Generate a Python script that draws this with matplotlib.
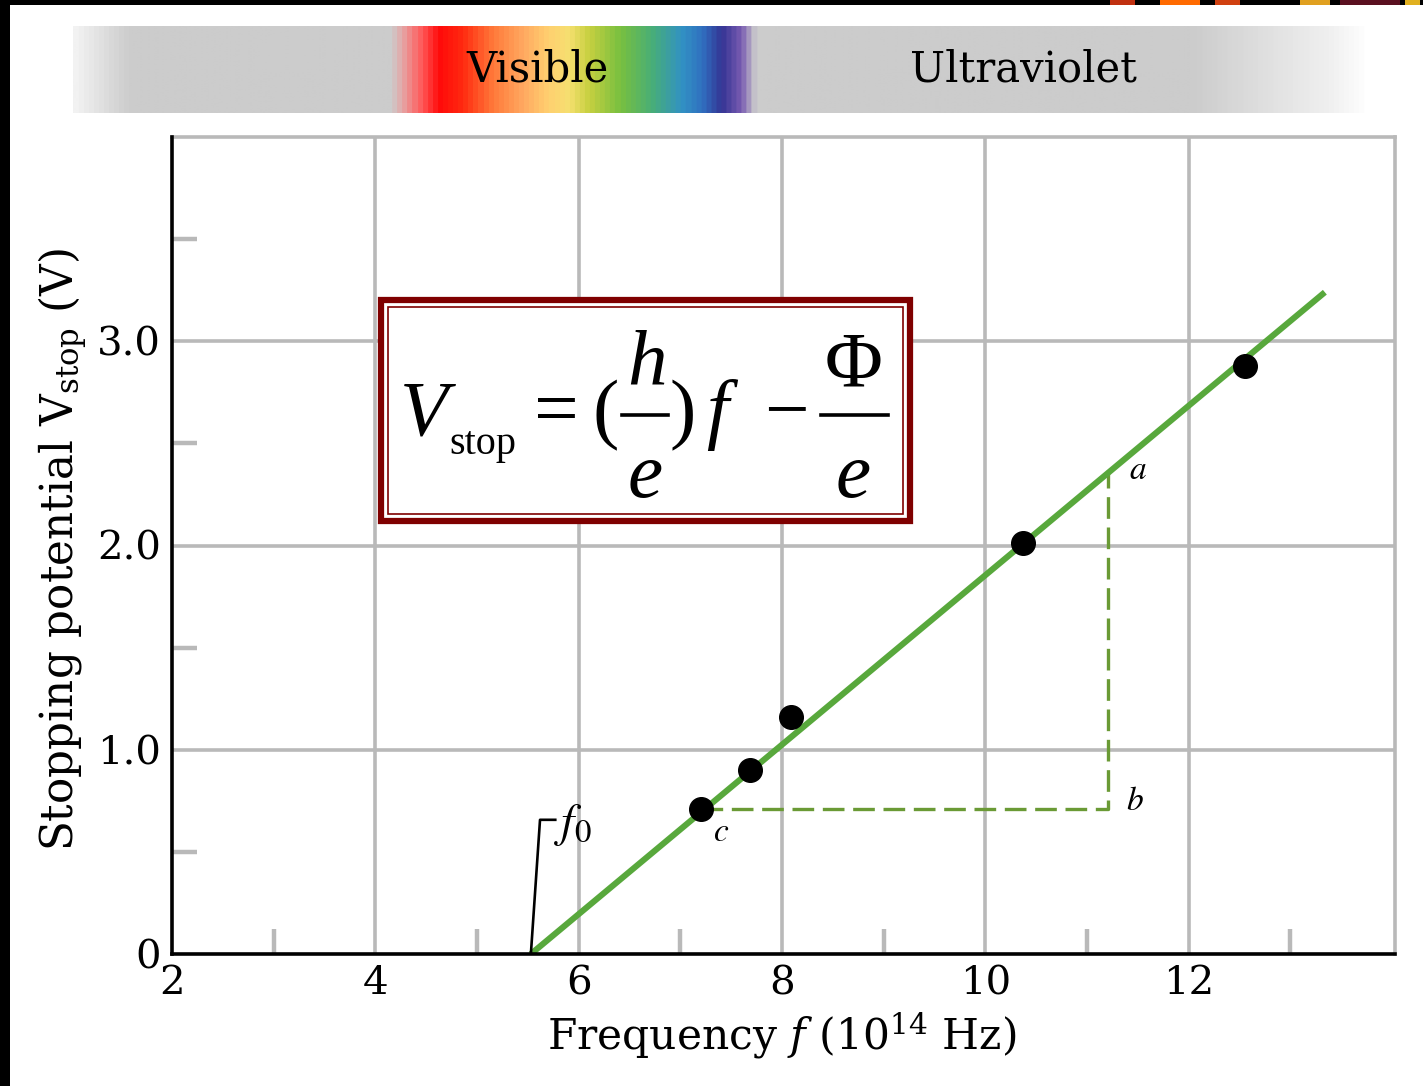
import numpy as np
import matplotlib
matplotlib.use("Agg")
import matplotlib.pyplot as plt
from matplotlib.colors import LinearSegmentedColormap
from matplotlib.patches import Rectangle
from matplotlib.lines import Line2D

# ---------------- data ----------------
freq = [7.20, 7.69, 8.09, 10.37, 12.55]          # 10^14 Hz
vstop = [0.71, 0.90, 1.16, 2.01, 2.88]           # V
fit_f = [5.53, 13.34]
fit_v = [0.0, 3.24]
tri_f = [7.20, 11.21, 11.21]                     # c -> b -> a
tri_v = [0.71, 0.71, 2.37]
f0_f = [5.53, 5.62, 5.77]
f0_v = [0.0, 0.657, 0.657]
xticks = [2, 4, 6, 8, 10, 12]
xticklabels = ['2', '4', '6', '8', '10', '12']
xminor = [3, 5, 7, 9, 11, 13]
yticks = [0, 1, 2, 3]
yticklabels = ['0', '1.0', '2.0', '3.0']
yminor = [0.5, 1.5, 2.5, 3.5]

W, H = 1423, 1086
fig = plt.figure(figsize=(W / 100, H / 100), dpi=100)
fig.patch.set_facecolor('white')

def fx(px):
    return px / W

def fy(py):
    return 1 - py / H

FONT = 'DejaVu Serif'
SERIF = 'Liberation Serif'
GRID = '#b9b9b9'

# ---------------- main axes ----------------
ax = fig.add_axes([fx(172), fy(954), fx(1395) - fx(172), fy(137) - fy(954)])
ax.set_xlim(2, 14.03)
ax.set_ylim(0, 4.0)

ax.set_xticks(xticks)
ax.set_xticklabels(xticklabels, fontfamily=FONT, fontsize=29)
ax.set_yticks(yticks)
ax.set_yticklabels(yticklabels, fontfamily=FONT, fontsize=29)
ax.set_xticks(xminor, minor=True)
ax.set_yticks(yminor, minor=True)
ax.tick_params(axis='both', which='major', length=0, pad=8)
ax.tick_params(axis='both', which='minor', length=18, width=3.2,
               color=GRID, direction='in')

for v in [4, 6, 8, 10, 12]:
    ax.axvline(v, color=GRID, lw=2.6, zorder=0)
for v in [1, 2, 3]:
    ax.axhline(v, color=GRID, lw=2.6, zorder=0)

for s in ['top', 'right']:
    ax.spines[s].set_color(GRID)
    ax.spines[s].set_linewidth(2.6)
for s in ['left', 'bottom']:
    ax.spines[s].set_color('black')
    ax.spines[s].set_linewidth(2.6)
    ax.spines[s].set_zorder(5)

# fitted line
ax.plot(fit_f, fit_v, color='#58a83c', lw=4.4, solid_capstyle='butt', zorder=3)
# data points
ax.plot(freq, vstop, 'o', color='black', ms=17, zorder=4)
# slope triangle
ax.plot(tri_f, tri_v, color='#6a9a35', lw=2.4, dashes=(6.5, 2.6), zorder=2)
# f0 marker
ax.plot(f0_f, f0_v, color='black', lw=1.9, zorder=4)
ax.text(5.94, 0.63, r'$f_0$', fontsize=34, ha='center', va='center',
        math_fontfamily='stix')

ax.text(11.5, 2.37, r'$a$', fontsize=24, ha='center', va='center', math_fontfamily='stix')
ax.text(11.47, 0.75, r'$b$', fontsize=24, ha='center', va='center', math_fontfamily='stix')
ax.text(7.4, 0.60, r'$c$', fontsize=24, ha='center', va='center', math_fontfamily='stix')

ax.set_xlabel(r'Frequency $f$ (10$^{14}$ Hz)', fontfamily=FONT, fontsize=30.5,
              math_fontfamily='dejavuserif')
ax.xaxis.set_label_coords((782 - 172) / 1223, (954 - 1010) / 817)
ax.set_ylabel(r'Stopping potential V$_{\rm stop}$ (V)', fontfamily=FONT, fontsize=31.5,
              math_fontfamily='dejavuserif')
ax.yaxis.set_label_coords((90 - 172) / 1223, (954 - 550) / 817)

# ---------------- equation box ----------------
fig.patches.append(Rectangle((fx(381), fy(521)), fx(910) - fx(381), fy(300) - fy(521),
                             transform=fig.transFigure, facecolor='white',
                             edgecolor='#7f0000', lw=4.5, zorder=6))
fig.patches.append(Rectangle((fx(388), fy(514)), fx(903) - fx(388), fy(307) - fy(514),
                             transform=fig.transFigure, facecolor='none',
                             edgecolor='#7f0000', lw=1.2, zorder=7))

BIG = 57
eq_parts = [  # (text, center x px, baseline y px, size, style)
    ('V', 424, 435, BIG, 'italic'),
    ('stop', 483, 454, 29, 'normal'),
    ('=', 556, 434, BIG, 'normal'),
    ('(', 606, 434, BIG, 'normal'),
    ('h', 647, 385, BIG, 'italic'),
    ('e', 645, 497, BIG, 'italic'),
    (')', 683, 434, BIG, 'normal'),
    ('f', 717, 434, BIG, 'italic'),
    ('\u2212', 786, 434, BIG, 'normal'),
    ('\u03a6', 854, 385, BIG, 'normal'),
    ('e', 853, 497, BIG, 'italic'),
]
for t, cx, by, sz, st in eq_parts:
    fig.text(fx(cx), fy(by), t, fontfamily=SERIF, fontsize=sz, style=st,
             ha='center', va='baseline', zorder=8)
for xa, xb in [(622, 668), (821, 888)]:
    fig.lines.append(Line2D([fx(xa), fx(xb)], [fy(415), fy(415)],
                            transform=fig.transFigure, color='black', lw=2.6,
                            zorder=8))

# ---------------- spectrum bar ----------------
x0, x1 = 73, 1370
stops_px = [73, 127, 390, 402, 420, 438, 462, 492, 522, 548, 568, 588, 620,
            652, 682, 702, 722, 742, 756, 1196, 1262, 1330, 1370]
stops_col = ['#f2f2f2', '#cccccc', '#cccccc', '#e6a4a4', '#ff5a5a', '#ff0a0a',
             '#ff2a10', '#ff7a3a', '#ffa860', '#ffd070', '#f6e070', '#c8d040',
             '#78c040', '#48ae78', '#3292c4', '#3070c0', '#343494', '#7a5cb2',
             '#cccccc', '#cccccc', '#dedede', '#efefef', '#ffffff']
pos = [(p - x0) / (x1 - x0) for p in stops_px]
cmap = LinearSegmentedColormap.from_list('spec', list(zip(pos, stops_col)))
sax = fig.add_axes([fx(x0), fy(113), fx(x1) - fx(x0), fy(26) - fy(113)])
sax.imshow(np.linspace(0, 1, 1300)[None, :], aspect='auto', cmap=cmap,
           extent=[0, 1, 0, 1])
sax.set_axis_off()
sax.text((537 - x0) / (x1 - x0), 0.5, 'Visible', fontfamily=FONT, fontsize=30,
         ha='center', va='center')
sax.text((1023 - x0) / (x1 - x0), 0.5, 'Ultraviolet', fontfamily=FONT, fontsize=30,
         ha='center', va='center')

# ---------------- page frame ----------------
fig.patches.append(Rectangle((0, 0), fx(10), 1, transform=fig.transFigure,
                             facecolor='black', edgecolor='none', zorder=10))
fig.patches.append(Rectangle((0, fy(5)), 1, fy(0) - fy(5), transform=fig.transFigure,
                             facecolor='black', edgecolor='none', zorder=10))
for a, b, c in [(1110, 1135, '#c03010'), (1160, 1200, '#ff6a00'),
                (1215, 1240, '#d04010'), (1300, 1330, '#e0a020'),
                (1340, 1400, '#5a1020'), (1405, 1420, '#e0b020')]:
    fig.patches.append(Rectangle((fx(a), fy(5)), fx(b) - fx(a), fy(0) - fy(5),
                                 transform=fig.transFigure, facecolor=c,
                                 edgecolor='none', zorder=11))

fig.savefig('out.png', dpi=100)
